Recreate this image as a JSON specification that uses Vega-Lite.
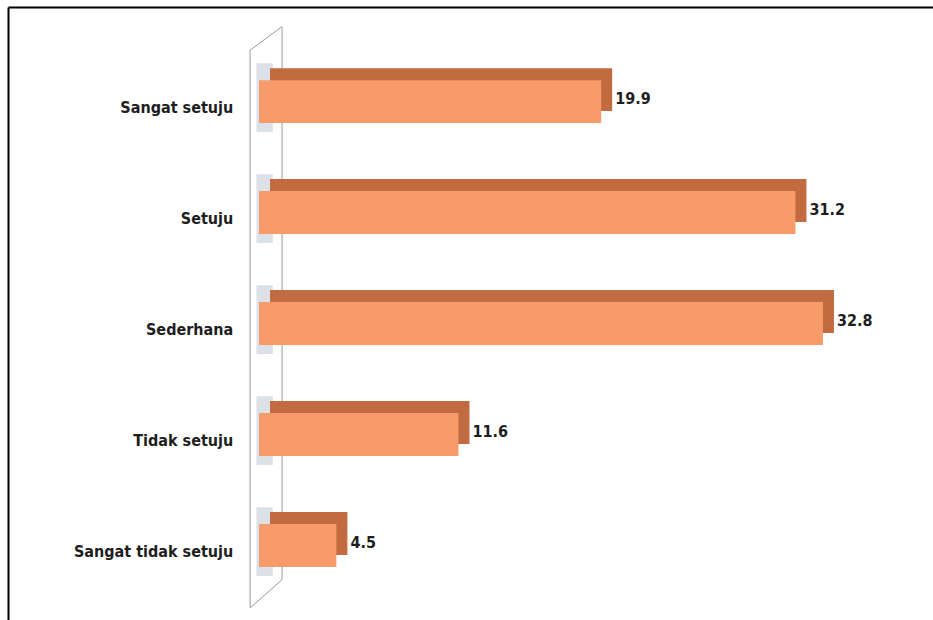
{
  "$schema": "https://vega.github.io/schema/vega-lite/v6.json",
  "width": 925,
  "height": 613,
  "autosize": {"type": "none"},
  "padding": {"left": 8, "top": 7, "right": 0, "bottom": 0},
  "background": "white",
  "config": {
    "view": {"stroke": null},
    "text": {"font": "Liberation Sans Narrow, DejaVu Sans Condensed, Liberation Sans, sans-serif", "fontWeight": "bold", "fontSize": 16, "color": "#1e1e1e"}
  },
  "data": {
    "values": [
      {"kategori": "Sangat setuju", "persen": 19.9},
      {"kategori": "Setuju", "persen": 31.2},
      {"kategori": "Sederhana", "persen": 32.8},
      {"kategori": "Tidak setuju", "persen": 11.6},
      {"kategori": "Sangat tidak setuju", "persen": 4.5}
    ]
  },
  "encoding": {
    "y": {
      "field": "kategori",
      "type": "nominal",
      "sort": null,
      "scale": {"domain": ["Sangat setuju", "Setuju", "Sederhana", "Tidak setuju", "Sangat tidak setuju"], "paddingInner": 0.613, "paddingOuter": 0.568, "align": 0.58},
      "axis": {"orient": "left", "labels": false, "ticks": false, "grid": false, "domain": true, "domainColor": "#000000", "domainWidth": 2, "title": null}
    }
  },
  "layer": [
    {
      "data": {"values": [{}]},
      "mark": {"type": "rule", "color": "#9a9a9a", "strokeWidth": 1, "yOffset": -30, "y2Offset": 62},
      "encoding": {
        "x": {"datum": -0.52, "type": "quantitative", "scale": {"domain": [-14.6, 39.2], "nice": false, "zero": false}, "axis": {"orient": "top", "labels": false, "ticks": false, "grid": false, "domain": true, "domainColor": "#000000", "domainWidth": 2, "title": null}},
        "y": {"datum": "Sangat setuju", "bandPosition": 0},
        "y2": {"datum": "Sangat tidak setuju"}
      }
    },
    {
      "data": {"values": [{}]},
      "mark": {"type": "rule", "color": "#9a9a9a", "strokeWidth": 1, "yOffset": -53, "y2Offset": 34},
      "encoding": {
        "x": {"datum": 1.34, "type": "quantitative"},
        "y": {"datum": "Sangat setuju", "bandPosition": 0},
        "y2": {"datum": "Sangat tidak setuju"}
      }
    },
    {
      "data": {"values": [{}]},
      "mark": {"type": "rule", "color": "#9a9a9a", "strokeWidth": 1, "yOffset": -30, "y2Offset": -75},
      "encoding": {
        "x": {"datum": -0.52, "type": "quantitative"},
        "x2": {"datum": 1.34},
        "y": {"datum": "Sangat setuju", "bandPosition": 0},
        "y2": {"datum": "Sangat setuju"}
      }
    },
    {
      "data": {"values": [{}]},
      "mark": {"type": "rule", "color": "#9a9a9a", "strokeWidth": 1, "yOffset": 84, "y2Offset": 34},
      "encoding": {
        "x": {"datum": -0.52, "type": "quantitative"},
        "x2": {"datum": 1.34},
        "y": {"datum": "Sangat tidak setuju", "bandPosition": 0},
        "y2": {"datum": "Sangat tidak setuju"}
      }
    },
    {
      "mark": {"type": "bar", "color": "#b9c2cf", "opacity": 0.5, "height": {"band": 1.6}, "yOffset": -4},
      "encoding": {
        "x": {"datum": -0.15, "type": "quantitative"},
        "x2": {"datum": 0.8}
      }
    },
    {
      "mark": {"type": "bar", "color": "#C26A40", "xOffset": 11, "x2Offset": 11, "yOffset": -12, "y2Offset": -12},
      "encoding": {
        "x": {"field": "persen", "type": "quantitative"},
        "x2": {"datum": 0}
      }
    },
    {
      "mark": {"type": "bar", "color": "#F79B6B"},
      "encoding": {
        "x": {"field": "persen", "type": "quantitative"},
        "x2": {"datum": 0}
      }
    },
    {
      "mark": {"type": "text", "align": "left", "baseline": "middle", "dx": 14, "dy": -3},
      "encoding": {
        "x": {"field": "persen", "type": "quantitative"},
        "text": {"field": "persen", "type": "quantitative", "format": ".1f"}
      }
    },
    {
      "mark": {"type": "text", "align": "right", "baseline": "middle", "dy": 6},
      "encoding": {
        "x": {"datum": -1.5, "type": "quantitative"},
        "text": {"field": "kategori", "type": "nominal"}
      }
    }
  ]
}
